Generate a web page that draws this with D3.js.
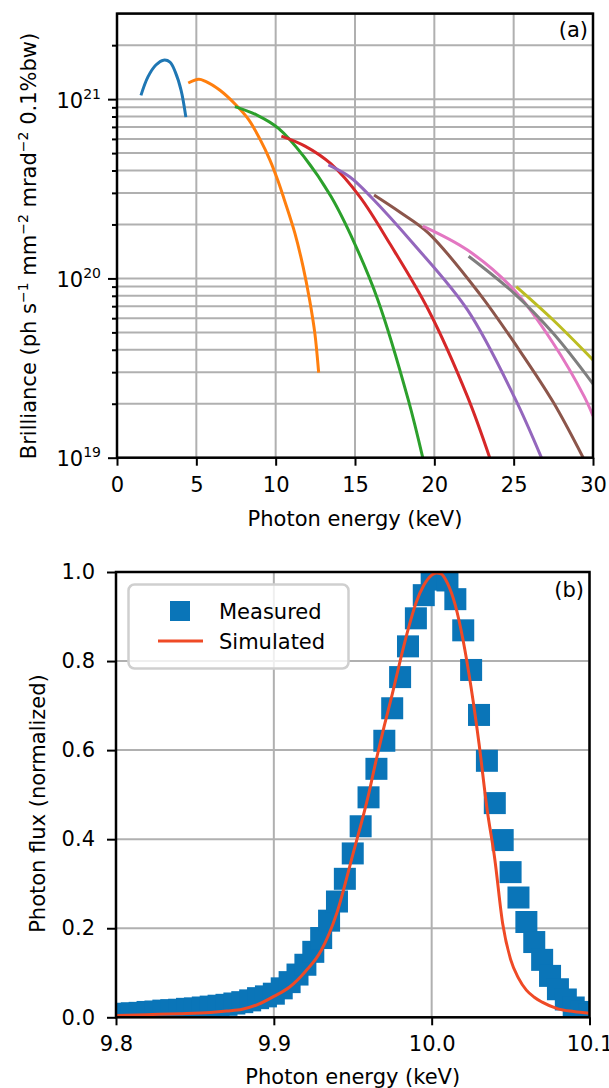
<!DOCTYPE html>
<html>
<head>
<meta charset="utf-8">
<script src="https://cdn.jsdelivr.net/npm/d3@7"></script>
<style>
  body { margin: 0; background: #fff; }
  text { font-family: "DejaVu Sans", sans-serif; fill: #000; }
  .grid line { stroke: #b0b0b0; stroke-width: 2; }
  .tick line { stroke: #000; stroke-width: 2; }
</style>
</head>
<body>
<svg width="609" height="1088"></svg>
<script>

// ---- panel (a): brilliance tuning curves, [energy keV, brilliance]
const harmBlue   = [[1.51,1.05e21],[1.95,1.33e21],[2.45,1.55e21],[2.93,1.65e21],[3.34,1.61e21],[3.67,1.42e21],[4.04,1.12e21],[4.34,7.94e20]];
const harmOrange = [[4.49,1.23e21],[5.15,1.29e21],[5.55,1.26e21],[6.49,1.12e21],[7.5,9.27e20],[8.32,7.64e20],[9.01,5.98e20],[9.64,4.57e20],[10.15,3.49e20],[10.55,2.74e20],[11.21,1.79e20],[11.73,1.16e20],[12.14,7.59e19],[12.47,4.94e19],[12.71,2.98e19]];
const harmGreen  = [[7.43,9.08e20],[8.82,8.15e20],[10.18,6.87e20],[11.78,4.78e20],[13.49,2.86e20],[14.97,1.57e20],[16.44,7.59e19],[18.36,2.1e19],[19.27,1.0e19]];
const harmRed    = [[10.36,6.22e20],[11.85,5.47e20],[13.49,4.35e20],[15.32,2.84e20],[17.18,1.57e20],[19.63,6.67e19],[22.09,2.19e19],[23.49,1.0e19]];
const harmPurple = [[13.32,4.3e20],[14.68,3.68e20],[16.07,2.81e20],[18.65,1.57e20],[22.09,6.67e19],[25.03,2.19e19],[26.75,1.0e19]];
const harmBrown  = [[16.2,2.92e20],[17.84,2.34e20],[19.63,1.79e20],[22.83,8.26e19],[25.27,4.09e19],[27.48,2.05e19],[29.38,1.0e19]];
const harmPink   = [[19.27,1.96e20],[22.09,1.44e20],[25.03,8.61e19],[27.49,4.35e19],[29.45,2.19e19],[30,1.71e19]];
const harmGray   = [[22.16,1.33e20],[25.03,8.26e19],[27.49,4.94e19],[30,2.58e19]];
const harmOlive  = [[25.16,9.0e19],[27.49,5.86e19],[30,3.51e19]];

const harmonics = [harmBlue, harmOrange, harmGreen, harmRed, harmPurple, harmBrown, harmPink, harmGray, harmOlive];
const harmColors = ['#1f77b4','#ff7f0e','#2ca02c','#d62728','#9467bd','#8c564b','#e377c2','#7f7f7f','#bcbd22'];

const xTicksA = [0, 5, 10, 15, 20, 25, 30];
const yMajorA = [1e19, 1e20, 1e21];
const yExpA = ['19', '20', '21'];
const yMinorA = [2e19,3e19,4e19,5e19,6e19,7e19,8e19,9e19,2e20,3e20,4e20,5e20,6e20,7e20,8e20,9e20,2e21,3e21];

// ---- panel (b): measured vs simulated flux
const measEnergy = [9.800,9.805,9.810,9.815,9.820,9.825,9.830,9.835,9.840,9.845,9.850,9.855,9.860,9.865,9.870,9.875,9.880,9.885,9.890,9.895,
  9.900,9.905,9.910,9.915,9.920,9.925,9.930,9.935,9.940,9.945,9.950,9.955,9.960,9.965,9.970,9.975,9.980,9.985,9.990,9.995,
  10.000,10.005,10.010,10.015,10.020,10.025,10.030,10.035,10.040,10.045,10.050,10.055,10.060,10.065,10.070,10.075,10.080,10.085,10.090,10.095,10.100];
const measFlux = [0.007,0.008,0.009,0.010,0.012,0.013,0.015,0.016,0.017,0.019,0.020,0.022,0.024,0.026,0.028,0.031,0.034,0.038,0.043,0.047,
  0.053,0.065,0.079,0.096,0.118,0.147,0.178,0.217,0.260,0.311,0.368,0.429,0.494,0.558,0.621,0.694,0.764,0.833,0.896,0.948,
  0.983,1.000,0.981,0.939,0.869,0.780,0.679,0.576,0.481,0.398,0.326,0.269,0.214,0.169,0.129,0.093,0.063,0.040,0.022,0.012,0.006];

const simEnergy = [9.800,9.820,9.840,9.860,9.870,9.880,9.890,9.900,9.910,9.920,9.930,9.940,9.950,9.960,9.965,9.970,9.975,9.980,9.985,9.990,9.995,
  10.000,10.003,10.006,10.010,10.015,10.020,10.025,10.030,10.035,10.040,10.045,10.050,10.055,10.060,10.065,10.070,10.080,10.090,10.100];
const simFlux = [0.004,0.006,0.008,0.011,0.014,0.018,0.029,0.047,0.068,0.103,0.150,0.235,0.365,0.500,0.580,0.655,0.725,0.800,0.870,0.930,0.970,
  0.993,0.998,0.996,0.975,0.925,0.845,0.740,0.615,0.470,0.355,0.210,0.130,0.088,0.061,0.045,0.034,0.019,0.013,0.009];

const xTicksB = [9.8, 9.9, 10.0, 10.1];
const yTicksB = [0.0, 0.2, 0.4, 0.6, 0.8, 1.0];

const svg = d3.select('svg');
svg.append('rect').attr('width', 609).attr('height', 1088).attr('fill', '#fff');

// ================= panel (a) =================
const xA = d3.scaleLinear().domain([0, 30]).range([117, 593]);
const yA = d3.scaleLog().domain([1e19, 3e21]).range([457.7, 13.6]);

svg.append('clipPath').attr('id', 'clipA').append('rect')
  .attr('x', xA(0)).attr('y', yA(3e21)).attr('width', xA(30) - xA(0)).attr('height', yA(1e19) - yA(3e21));

const gridA = svg.append('g').attr('class', 'grid');
gridA.selectAll('.vx').data(xTicksA).enter().append('line')
  .attr('x1', d => xA(d)).attr('x2', d => xA(d)).attr('y1', yA(3e21)).attr('y2', yA(1e19));
gridA.selectAll('.hy').data(yMajorA.concat(yMinorA)).enter().append('line')
  .attr('x1', xA(0)).attr('x2', xA(30)).attr('y1', d => yA(d)).attr('y2', d => yA(d));

const lineA = d3.line().x(d => xA(d[0])).y(d => yA(d[1])).curve(d3.curveCatmullRom.alpha(0.5));
svg.append('g').attr('clip-path', 'url(#clipA)')
  .selectAll('path').data(harmonics).enter().append('path')
  .attr('d', lineA)
  .attr('fill', 'none')
  .attr('stroke', (d, i) => harmColors[i])
  .attr('stroke-width', 3);

// x axis
const axA = svg.append('g').attr('transform', `translate(0, ${yA(1e19)})`)
  .call(d3.axisBottom(xA).tickValues(xTicksA).tickSize(8).tickPadding(11).tickFormat(d3.format('d')));
axA.select('.domain').remove();
axA.selectAll('text').attr('font-size', 21).attr('font-family', 'DejaVu Sans');

// y axis major + minor
const ayA = svg.append('g').attr('transform', `translate(${xA(0)}, 0)`)
  .call(d3.axisLeft(yA).tickValues(yMajorA).tickSize(9).tickFormat(''));
ayA.select('.domain').remove();
ayA.selectAll('.tick').each(function (d, i) {
  const t = d3.select(this).append('text')
    .attr('x', -16).attr('y', 8).attr('text-anchor', 'end').attr('font-size', 21);
  t.append('tspan').text('10');
  t.append('tspan').attr('dy', -9).attr('font-size', 14).text(yExpA[i]);
});
const ayA2 = svg.append('g').attr('transform', `translate(${xA(0)}, 0)`)
  .call(d3.axisLeft(yA).tickValues(yMinorA.filter(v => v < 3e21)).tickSize(5).tickFormat(''));
ayA2.select('.domain').remove();

svg.append('rect')
  .attr('x', xA(0)).attr('y', yA(3e21)).attr('width', xA(30) - xA(0)).attr('height', yA(1e19) - yA(3e21))
  .attr('fill', 'none').attr('stroke', '#000').attr('stroke-width', 2.5);

svg.append('text').attr('x', (xA(0) + xA(30)) / 2).attr('y', 526)
  .attr('text-anchor', 'middle').attr('font-size', 21).text('Photon energy (keV)');

const ylabA = svg.append('text')
  .attr('transform', 'translate(36, 246) rotate(-90)')
  .attr('text-anchor', 'middle').attr('font-size', 21);
[['Brilliance (ph s', false], ['\u22121', true], [' mm', false], ['\u22122', true],
 [' mrad', false], ['\u22122', true], [' 0.1%bw)', false]].forEach((p, i) => {
  ylabA.append('tspan').attr('dy', p[1] ? -8 : (i ? 8 : 0))
    .attr('font-size', p[1] ? 14 : 21).text(p[0]);
});

svg.append('text').attr('x', 588).attr('y', 37).attr('text-anchor', 'end').attr('font-size', 21).text('(a)');

// ================= panel (b) =================
const xB = d3.scaleLinear().domain([9.8, 10.1]).range([116, 589.5]);
const yB = d3.scaleLinear().domain([0, 1]).range([1017.3, 572]);

svg.append('clipPath').attr('id', 'clipB').append('rect')
  .attr('x', xB(9.8)).attr('y', yB(1)).attr('width', xB(10.1) - xB(9.8)).attr('height', yB(0) - yB(1));

const gridB = svg.append('g').attr('class', 'grid');
gridB.selectAll('.vx').data(xTicksB).enter().append('line')
  .attr('x1', d => xB(d)).attr('x2', d => xB(d)).attr('y1', yB(1)).attr('y2', yB(0));
gridB.selectAll('.hy').data(yTicksB).enter().append('line')
  .attr('x1', xB(9.8)).attr('x2', xB(10.1)).attr('y1', d => yB(d)).attr('y2', d => yB(d));

const sq = 22;
const plotB = svg.append('g').attr('clip-path', 'url(#clipB)');
plotB.selectAll('rect').data(measEnergy).enter().append('rect')
  .attr('x', d => xB(d) - sq / 2)
  .attr('y', (d, i) => yB(measFlux[i]) - sq / 2)
  .attr('width', sq).attr('height', sq)
  .attr('fill', '#0a75b8');

const lineB = d3.line().x(d => xB(d)).y((d, i) => yB(simFlux[i])).curve(d3.curveMonotoneX);
plotB.append('path').attr('d', lineB(simEnergy))
  .attr('fill', 'none').attr('stroke', '#ef4a26').attr('stroke-width', 3);

const axB = svg.append('g').attr('transform', `translate(0, ${yB(0)})`)
  .call(d3.axisBottom(xB).tickValues(xTicksB).tickSize(8).tickPadding(11).tickFormat(d3.format('.1f')));
axB.select('.domain').remove();
axB.selectAll('text').attr('font-size', 21).attr('font-family', 'DejaVu Sans');

const ayB = svg.append('g').attr('transform', `translate(${xB(9.8)}, 0)`)
  .call(d3.axisLeft(yB).tickValues(yTicksB).tickSize(9).tickPadding(12).tickFormat(d3.format('.1f')));
ayB.select('.domain').remove();
ayB.selectAll('text').attr('font-size', 21).attr('font-family', 'DejaVu Sans');

svg.append('rect')
  .attr('x', xB(9.8)).attr('y', yB(1)).attr('width', xB(10.1) - xB(9.8)).attr('height', yB(0) - yB(1))
  .attr('fill', 'none').attr('stroke', '#000').attr('stroke-width', 2.5);

svg.append('text').attr('x', (xB(9.8) + xB(10.1)) / 2).attr('y', 1084)
  .attr('text-anchor', 'middle').attr('font-size', 21).text('Photon energy (keV)');
svg.append('text')
  .attr('transform', 'translate(44.5, 803.5) rotate(-90)')
  .attr('text-anchor', 'middle').attr('font-size', 21).text('Photon flux (normalized)');
svg.append('text').attr('x', 584).attr('y', 597).attr('text-anchor', 'end').attr('font-size', 21).text('(b)');

// legend
const leg = svg.append('g');
leg.append('rect').attr('x', 128.5).attr('y', 584.5).attr('width', 220).attr('height', 84).attr('rx', 6)
  .attr('fill', '#fff').attr('fill-opacity', 0.8).attr('stroke', '#cfcfcf').attr('stroke-width', 2.5);
leg.append('rect').attr('x', 170).attr('y', 601).attr('width', 20).attr('height', 20).attr('fill', '#0a75b8');
leg.append('text').attr('x', 219).attr('y', 618.5).attr('font-size', 21).text('Measured');
leg.append('line').attr('x1', 158).attr('x2', 203).attr('y1', 641).attr('y2', 641)
  .attr('stroke', '#ef4a26').attr('stroke-width', 3);
leg.append('text').attr('x', 219).attr('y', 648.5).attr('font-size', 21).text('Simulated');

</script>
</body>
</html>
